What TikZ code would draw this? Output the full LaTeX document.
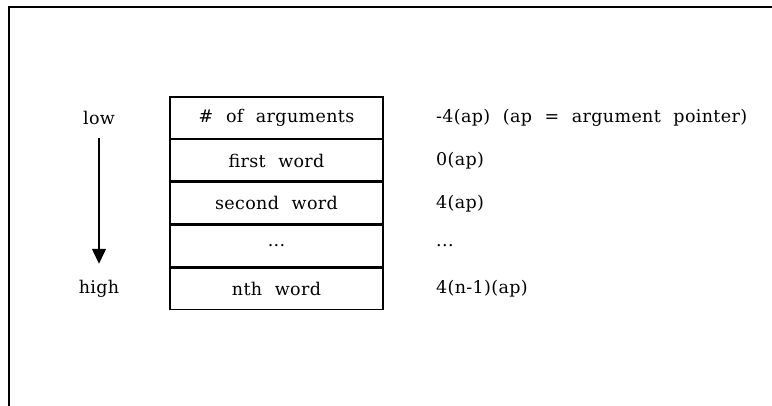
\documentclass[tikz,border=0pt]{standalone}
\usepackage{fontspec}
\setmainfont{DejaVu Serif}[LetterSpace=2]
\usetikzlibrary{arrows.meta}
\begin{document}
\begin{tikzpicture}[x=1pt,y=-1pt,
  every node/.style={font=\fontsize{17.5}{21}\selectfont,
    execute at begin node={\spaceskip=0.72em plus 0.1em\relax}},
  cell/.style={draw,line width=1.4pt,minimum width=213pt,minimum height=41.4pt,inner sep=0pt},
  offset/.style={anchor=west,inner sep=0pt},
  flow/.style={line width=1.3pt,-{Triangle[width=14pt,length=15pt]}},
  frame/.style={line width=2pt}]
  \useasboundingbox (0,0) rectangle (772,406);
  % outer frame (top and left edges)
  \draw[frame] (772,7) -- (9,7) -- (9,406);
  % argument list cells
  \node[cell] (c1) at (276.5,117.7) {\# of arguments};
  \node[cell,anchor=north] (c2) at (c1.south) {first word};
  \node[cell,anchor=north] (c3) at (c2.south) {second word};
  \node[cell,anchor=north] (c4) at (c3.south) {...};
  \node[cell,anchor=north] (c5) at (c4.south) {nth word};
  % column positions for the side labels
  \coordinate (ox) at (436,0);
  \coordinate (lx) at (99,0);
  % addressing offsets
  \node[offset] (o1) at (c1 -| ox) {-4(ap) (ap = argument pointer)};
  \node[offset] (o2) at (c2 -| ox) {0(ap)};
  \node[offset] (o3) at (c3 -| ox) {4(ap)};
  \node[offset] (o4) at (c4 -| ox) {...};
  \node[offset] (o5) at (c5 -| ox) {4(n-1)(ap)};
  % direction of increasing addresses
  \node (low) at (c1 -| lx) {low};
  \node (high) at (c5 -| lx) {high};
  \path (low.south) ++(0,10) coordinate (fa) (high.north) ++(0,-13) coordinate (fb);
  \draw[flow] (fa) -- (fb);
\end{tikzpicture}
\end{document}
